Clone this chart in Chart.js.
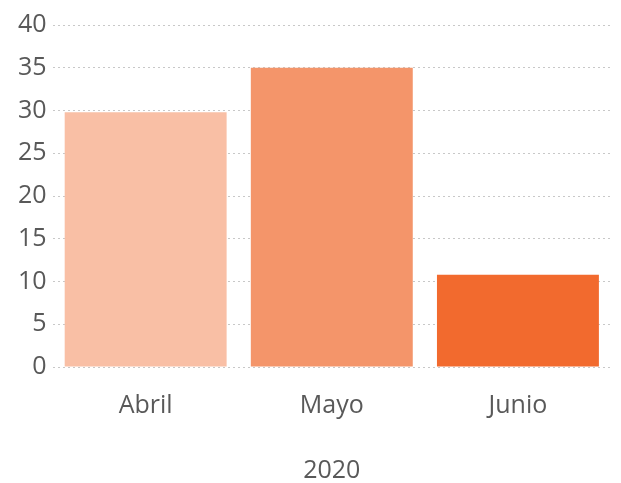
<!DOCTYPE html>
<html>
<head>
<meta charset="utf-8">
<script src="https://cdn.jsdelivr.net/npm/chart.js@4/dist/chart.umd.min.js"></script>
<style>
  html, body { margin: 0; padding: 0; background: #ffffff; }
  #wrap { width: 621px; height: 483px; }
</style>
</head>
<body>
<div id="wrap"><canvas id="chart"></canvas></div>
<script>
// months shown on the x axis
var months = ['Abril', 'Mayo', 'Junio'];
// values per month
var values = [29.8, 35, 10.8];
// bar colours, light to dark
var barColors = ['#F9BFA5', '#F4956A', '#F26A2E'];
// year under the month labels
var yearLabel = '2020';

var FONT = "'Open Sans', 'Noto Sans', sans-serif";
var GREY = '#595959';

var chart = new Chart(document.getElementById('chart'), {
    type: 'bar',
    data: {
        labels: months,
        datasets: [{
            data: values,
            backgroundColor: barColors,
            borderWidth: 0,
            categoryPercentage: 0.87,
            barPercentage: 1.0
        }]
    },
    options: {
        responsive: true,
        maintainAspectRatio: false,
        animation: false,
        layout: { padding: { top: 25, right: 10, left: 12, bottom: 0 } },
        plugins: {
            legend: { display: false },
            tooltip: { enabled: false }
        },
        scales: {
            x: {
                grid: { display: false, drawTicks: false },
                border: { display: false },
                ticks: {
                    color: GREY,
                    font: { family: FONT, size: 25 },
                    padding: 24
                },
                title: {
                    display: true,
                    text: yearLabel,
                    color: GREY,
                    font: { family: FONT, size: 25, lineHeight: 1 },
                    padding: { top: 13, bottom: 0 }
                }
            },
            y: {
                min: 0,
                max: 40,
                ticks: {
                    stepSize: 5,
                    color: GREY,
                    font: { family: FONT, size: 25 },
                    padding: 6
                },
                grid: {
                    color: '#c8c8c8',
                    lineWidth: 1,
                    drawTicks: false
                },
                border: { display: false, dash: [2, 3] }
            }
        }
    }
});
</script>
</body>
</html>
